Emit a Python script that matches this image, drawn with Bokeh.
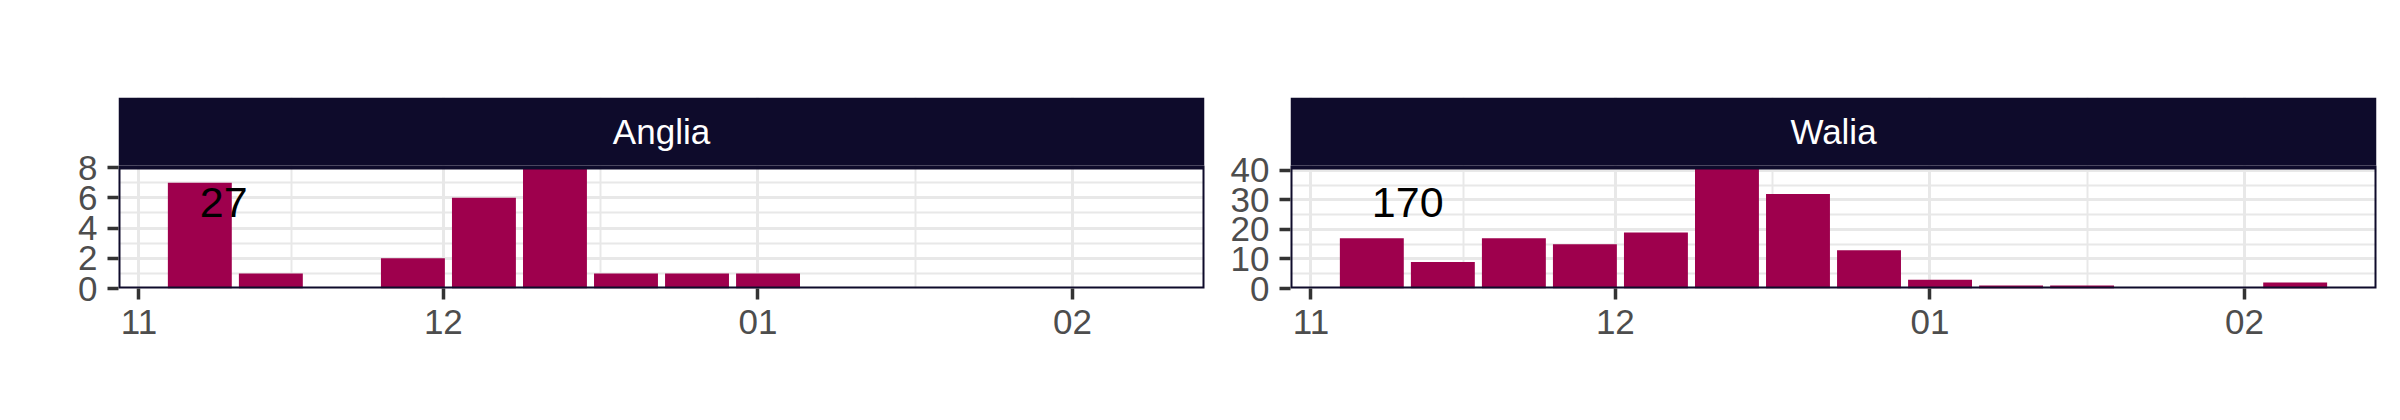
import pandas as pd
from bokeh.plotting import figure
from bokeh.layouts import row
from bokeh.models import Range1d, FixedTicker, DatetimeTickFormatter
from bokeh.core.properties import value
from bokeh.embed import file_html
from bokeh.resources import INLINE

# ---------------- data ----------------
facets = ["Anglia", "Walia"]
week_starts = ["2022-11-07", "2022-11-14", "2022-11-21", "2022-11-28",
               "2022-12-05", "2022-12-12", "2022-12-19", "2022-12-26",
               "2023-01-02", "2023-01-09", "2023-01-16", "2023-01-23",
               "2023-01-30", "2023-02-06"]
anglia_counts = [7, 1, 0, 2, 6, 8, 1, 1, 1, 0, 0, 0, 0, 0]
walia_counts = [17, 9, 17, 15, 19, 41, 32, 13, 3, 1, 1, 0, 0, 2]
x_tick_dates = ["2022-11-01", "2022-12-01", "2023-01-01", "2023-02-01"]
x_tick_labels = ["11", "12", "01", "02"]
anglia_y_ticks = [0, 2, 4, 6, 8]
walia_y_ticks = [0, 10, 20, 30, 40]

# ---------------- styling / layout ----------------
DARK = "#0E0B2B"
BAR = "#9E004D"
GRID = "#E8E8E8"
TICK_TXT = "#4D4D4D"
FONT = "Liberation Sans"

PANEL_H = 121      # px height of data panel
GAP_H = 2          # px gap between strip and panel
STRIP_H = 68       # px height of facet strip
FRAME_H = PANEL_H + GAP_H + STRIP_H
TOP = 97
BOTTOM = 124
FRAME_W = 1086
borders = {"Anglia": (118, 10), "Walia": (76, 16)}
series = {"Anglia": (anglia_counts, anglia_y_ticks), "Walia": (walia_counts, walia_y_ticks)}

DAY_MS = 24 * 3600 * 1000
weeks = pd.to_datetime(week_starts)
bar_w = 0.9 * 7 * DAY_MS

def ms(ts):
    return pd.Timestamp(ts).value / 1e6

lo = ms(weeks.min()) - bar_w / 2
hi = ms(weeks.max()) + bar_w / 2
pad = 0.05 * (hi - lo)
x_start, x_end = lo - pad, hi + pad

major_x = [ms(d) for d in x_tick_dates]
minor_x = [(a + b) / 2 for a, b in zip(major_x[:-1], major_x[1:])]

figs = []
for name in facets:
    L, R = borders[name]
    W = L + FRAME_W + R
    counts, yt = series[name]
    ymax = max(counts)
    unit = ymax / PANEL_H                     # data units per pixel
    y_end = ymax + (GAP_H + STRIP_H) * unit
    strip_bot = ymax + GAP_H * unit

    p = figure(width=W, height=TOP + FRAME_H + BOTTOM, x_axis_type="datetime",
               x_range=Range1d(x_start, x_end), y_range=Range1d(0, y_end),
               toolbar_location=None, output_backend="svg",
               min_border_left=L, min_border_right=R,
               min_border_top=TOP, min_border_bottom=BOTTOM)

    # bars
    p.vbar(x=weeks, top=counts, width=bar_w, fill_color=BAR, line_color=None)

    # gap + strip (cover the vertical grid lines above the panel)
    p.quad(left=[x_start], right=[x_end], bottom=[ymax], top=[strip_bot],
           fill_color="white", line_color=None)
    p.quad(left=[x_start], right=[x_end], bottom=[strip_bot], top=[y_end],
           fill_color=DARK, line_color=None)
    p.text(x=[(x_start + x_end) / 2], y=[(strip_bot + y_end) / 2], text=[name],
           text_color="white", text_font=value(FONT), text_font_size="35px",
           text_align="center", text_baseline="middle")

    # panel border
    p.quad(left=[x_start], right=[x_end], bottom=[0], top=[ymax],
           fill_color=None, line_color=DARK, line_width=4)

    # total label
    p.text(x=[weeks[0]], y=[0.71 * ymax], text=[str(sum(counts))],
           text_color="black", text_font=value(FONT), text_font_size="43px",
           text_align="left", text_baseline="middle")

    xt = FixedTicker(ticks=major_x, minor_ticks=minor_x)
    ymin = [(a + b) / 2 for a, b in zip(yt[:-1], yt[1:])]
    ytk = FixedTicker(ticks=yt, minor_ticks=ymin)
    p.xaxis.ticker = xt
    p.xgrid.ticker = xt
    p.yaxis.ticker = ytk
    p.ygrid.ticker = ytk
    p.xaxis.formatter = DatetimeTickFormatter(
        milliseconds="%m", seconds="%m", minsec="%m", minutes="%m", hourmin="%m",
        hours="%m", days="%m", months="%m", years="%m")

    p.grid.grid_line_color = GRID
    p.grid.grid_line_width = 3
    p.grid.minor_grid_line_color = GRID
    p.grid.minor_grid_line_width = 2
    p.axis.axis_line_color = None
    p.axis.major_tick_line_color = "#333333"
    p.axis.major_tick_line_width = 3.5
    p.axis.major_tick_out = 11
    p.axis.major_tick_in = 0
    p.axis.minor_tick_line_color = None
    p.axis.major_label_text_font = FONT
    p.axis.major_label_text_font_size = "35px"
    p.axis.major_label_text_color = TICK_TXT
    p.axis.major_label_standoff = 10
    p.outline_line_color = None
    p.background_fill_color = "white"
    p.border_fill_color = "white"

    figs.append(p)

layout = row(*figs, spacing=0)
open("out.html", "w").write(file_html(layout, INLINE))
